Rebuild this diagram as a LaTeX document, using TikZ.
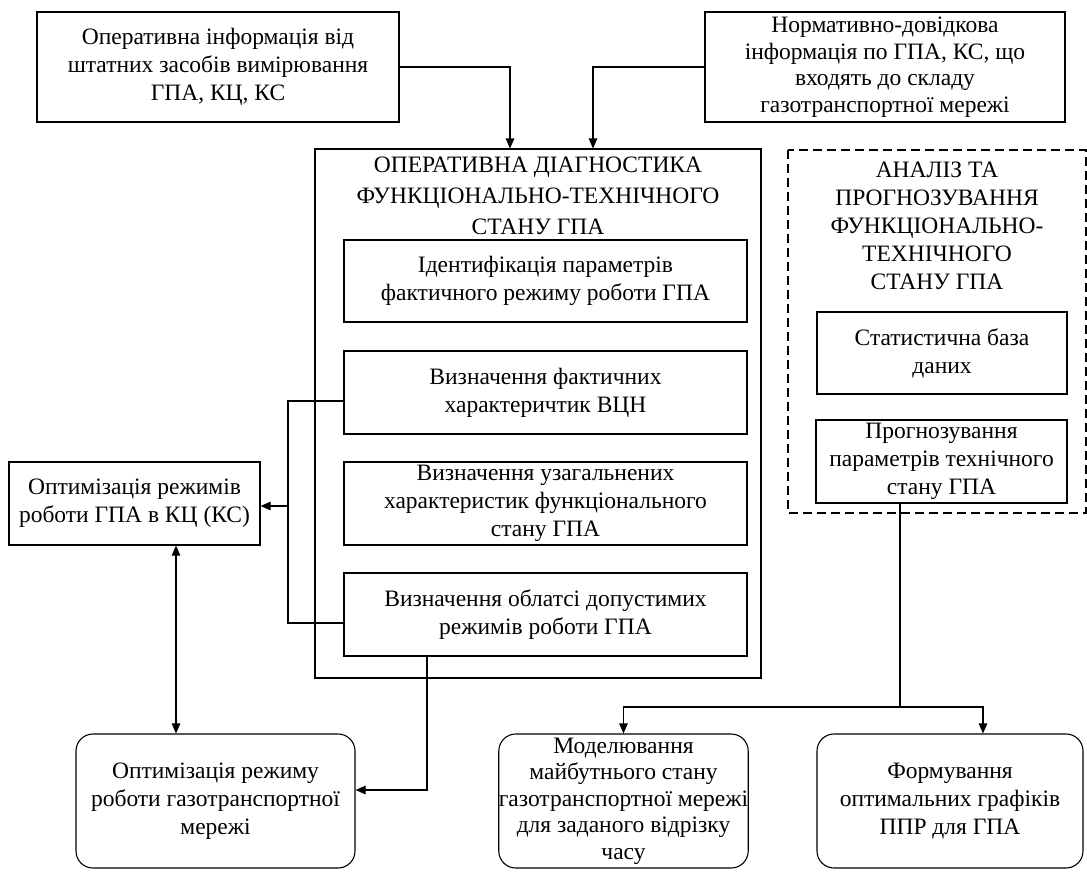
\documentclass[tikz,border=0pt]{standalone}
\usepackage{fontspec}
\setmainfont{Liberation Serif}
\usetikzlibrary{arrows.meta,calc}
\tikzset{
  txt/.style={font=\fontsize{23.5}{28}\selectfont, align=center, inner sep=0pt},
  box/.style={draw, line width=1.1pt, txt, rectangle},
  rbox/.style={draw, line width=1.1pt, txt, rectangle, rounded corners=17pt},
  dbox/.style={draw, line width=1.1pt, dash pattern=on 9pt off 5pt},
  conn/.style={line width=1.1pt},
  arr/.style={conn, -{Triangle[length=10pt,width=8.5pt]}},
  darr/.style={conn, {Triangle[length=10pt,width=8.5pt]}-{Triangle[length=10pt,width=8.5pt]}},
}
\begin{document}
\begin{tikzpicture}[x=1pt,y=-1pt]
\useasboundingbox (0,0) rectangle (1087,871);
% top boxes
\node[box, minimum width=362pt, minimum height=110pt] (info1) at (218,67)
  {Оперативна інформація від\\штатних засобів вимірювання\\ГПА, КЦ, КС};
\node[box, minimum width=360pt, minimum height=110pt, font=\fontsize{23.5}{26.5}\selectfont] (info2) at (885,67)
  {Нормативно-довідкова\\інформація по ГПА, КС, що\\входять до складу\\газотранспортної мережі};
% big diagnostic box
\node[draw, line width=1.1pt, minimum width=446pt, minimum height=529pt, inner sep=0pt] (diag) at (538,413.5) {};
\node[txt, font=\fontsize{23.5}{31}\selectfont] (diagT) at (538,196)
  {ОПЕРАТИВНА ДІАГНОСТИКА\\ФУНКЦІОНАЛЬНО-ТЕХНІЧНОГО\\СТАНУ ГПА};
\node[box, minimum width=403pt, minimum height=82pt] (b1) at (545.5,281)
  {Ідентифікація параметрів\\фактичного режиму роботи ГПА};
\node[box, minimum width=403pt, minimum height=83pt] (b2) at (545.5,392.5)
  {Визначення фактичних\\характеричтик ВЦН};
\node[box, minimum width=403pt, minimum height=83pt] (b3) at (545.5,503.5)
  {Визначення узагальнених\\характеристик функціонального\\стану ГПА};
\node[box, minimum width=403pt, minimum height=83pt] (b4) at (545.5,614.5)
  {Визначення облатсі допустимих\\режимів роботи ГПА};
% left box
\node[box, minimum width=251pt, minimum height=83pt] (optKC) at (134.5,503.5)
  {Оптимізація режимів\\роботи ГПА в КЦ (КС)};
% dashed analysis box
\draw[dbox] (788,150) rectangle (1086,513);
\node[txt] (anT) at (937,226)
  {АНАЛІЗ ТА\\ПРОГНОЗУВАННЯ\\ФУНКЦІОНАЛЬНО-\\ТЕХНІЧНОГО\\СТАНУ ГПА};
\node[box, minimum width=250pt, minimum height=82pt] (stat) at (942,353)
  {Статистична база\\даних};
\node[box, minimum width=251pt, minimum height=83pt] (prog) at (941.5,461.5)
  {Прогнозування\\параметрів технічного\\стану ГПА};
% bottom rounded boxes
\node[rbox, minimum width=279pt, minimum height=134pt] (optNet) at (215.5,801)
  {Оптимізація режиму\\роботи газотранспортної\\мережі};
\node[rbox, minimum width=249pt, minimum height=134pt, font=\fontsize{23.5}{26.5}\selectfont] (model) at (623.5,801)
  {Моделювання\\майбутнього стану\\газотранспортної мережі\\для заданого відрізку\\часу};
\node[rbox, minimum width=266pt, minimum height=134pt] (form) at (950,801)
  {Формування\\оптимальних графіків\\ППР для ГПА};
% connectors
\draw[arr] (info1.east) -| ($(diag.north)+(-28,0)$);
\draw[arr] (info2.west) -| ($(diag.north)+(55,0)$);
\coordinate (brT) at (288,401);
\coordinate (brB) at (288,623);
\coordinate (brM) at (288,506);
\draw[conn] (brT -| b2.west) -- (brT) -- (brB) -- (brB -| b4.west);
\draw[arr] (brM) -- (brM -| optKC.east);
\coordinate (dx) at (176,0);
\draw[darr] (optKC.south -| dx) -- (optNet.north -| dx);
\coordinate (c4) at (427,790);
\draw[arr] (b4.south -| c4) -- (c4) -- (c4 -| optNet.east);
\coordinate (jn) at (900,707);
\coordinate (fx) at (983,707);
\draw[conn] (prog.south -| jn) -- (jn);
\draw[arr] (jn) -| (model.north);
\draw[arr] (jn) -- (fx) -- (fx |- form.north);
\end{tikzpicture}
\end{document}
